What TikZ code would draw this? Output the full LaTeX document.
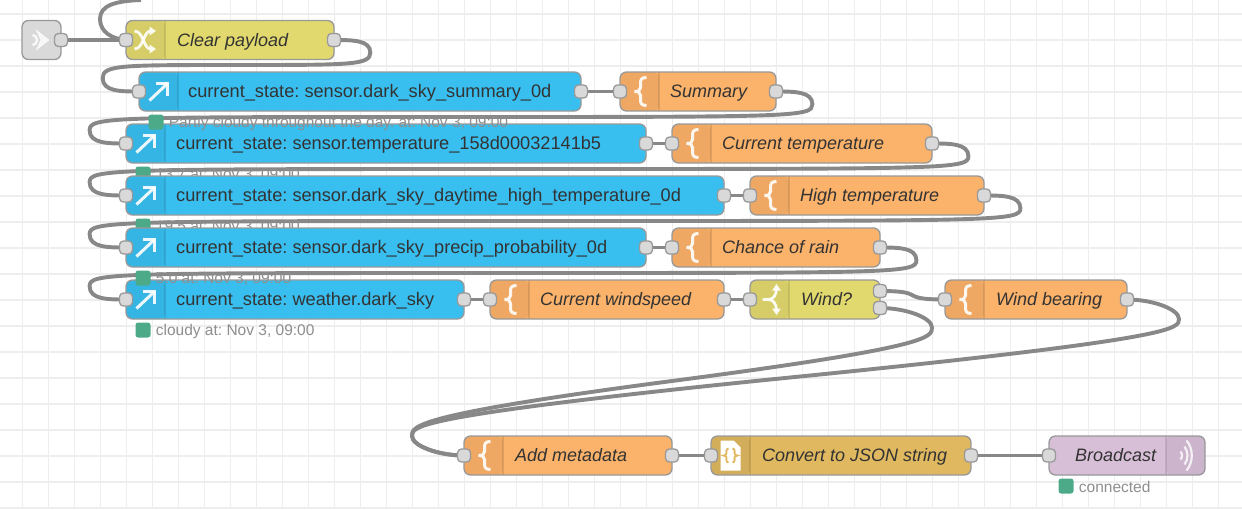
\documentclass[tikz,border=0pt]{standalone}
\usepackage{fontspec}
\setmainfont{Liberation Sans}
\usetikzlibrary{calc,positioning}
\frenchspacing

\definecolor{gridcol}{HTML}{EEEEEE}
\definecolor{wirecol}{HTML}{888888}
\definecolor{edgecol}{HTML}{999999}
\definecolor{portcol}{HTML}{D9D9D9}
\definecolor{textcol}{HTML}{333333}
\definecolor{statcol}{HTML}{4DAA89}
\definecolor{stattext}{HTML}{8E8E8E}
\definecolor{injectcol}{HTML}{D9D9D9}
\definecolor{changecol}{HTML}{E2D96E}
\definecolor{callcol}{HTML}{38BFF0}
\definecolor{funccol}{HTML}{FBB26A}
\definecolor{jsoncol}{HTML}{DFB85F}
\definecolor{linkcol}{HTML}{D8BFD8}

\pgfdeclarelayer{gridlayer}
\pgfdeclarelayer{wirelayer}
\pgfdeclarelayer{statlayer}
\pgfsetlayers{gridlayer,wirelayer,statlayer,main}

% node-red style bezier between two ports
\newcommand{\flowwire}[2]{%
  \pgfpointanchor{#1}{center}\pgfgetlastxy{\wxa}{\wya}%
  \pgfpointanchor{#2}{center}\pgfgetlastxy{\wxb}{\wyb}%
  \pgfmathsetmacro{\ox}{\wxa}\pgfmathsetmacro{\oy}{-\wya}%
  \pgfmathsetmacro{\tx}{\wxb}\pgfmathsetmacro{\ty}{-\wyb}%
  \pgfmathsetmacro{\ddx}{\tx-\ox}\pgfmathsetmacro{\ddy}{\ty-\oy}%
  \pgfmathparse{\ddx>0 ? 1 : 0}%
  \ifnum\pgfmathresult>0
    \pgfmathsetmacro{\del}{veclen(\ddx,\ddy)}%
    \pgfmathsetmacro{\sca}{\del<130 ? 0.75-0.75*(130-\del)/130 : 0.75}%
    \draw[wire] (#1.center) .. controls (\ox+130*\sca,\oy) and (\tx-130*\sca,\ty) .. (#2.center);
  \else
    \pgfmathsetmacro{\sca}{0.4-0.2*max(0,(130-min(abs(\ddx),abs(\ddy)))/130)}%
    \pgfmathsetmacro{\midx}{floor(\tx-\ddx/2)}\pgfmathsetmacro{\midy}{floor(\ty-\ddy/2)}%
    \pgfmathsetmacro{\ya}{(\ty+\midy)/2}%
    \pgfmathsetmacro{\topx}{\ox+130*\sca}\pgfmathsetmacro{\topy}{min(\ya-\ddy/2,\oy+19.5)}%
    \pgfmathsetmacro{\botx}{\tx-130*\sca}\pgfmathsetmacro{\boty}{max(\ya,\ty-19.5)}%
    \pgfmathsetmacro{\xa}{(\ox+\topx)/2}%
    \pgfmathsetmacro{\cay}{max(\oy,\topy-19.5)}%
    \pgfmathsetmacro{\cbx}{\xa}\pgfmathsetmacro{\cby}{min(\midy,\topy+19.5)}%
    \pgfmathsetmacro{\ccy}{max(\midy,\boty-19.5)}%
    \pgfmathparse{abs(\cby-\topy-19.5)<0.01 ? 1 : 0}%
    \ifnum\pgfmathresult>0
      \pgfmathsetmacro{\cay}{\topy-9.75}\pgfmathsetmacro{\ccy}{\boty-9.75}\let\cbx\topx
    \fi
    \draw[wire] (#1.center)
      .. controls (\xa,\oy) and (\topx,\cay) .. (\topx,\topy)
      .. controls (\topx,2*\topy-\cay) and (\cbx,\cby) .. (\midx,\midy)
      .. controls (2*\midx-\cbx,2*\midy-\cby) and (\botx,\ccy) .. (\botx,\boty)
      .. controls (\botx,2*\boty-\ccy) and ({(\tx+\botx)/2},\ty) .. (#2.center);
  \fi
}

\tikzset{
  gridline/.style={gridcol, line width=1.8pt},
  wire/.style={wirecol, line width=3.9pt},
  flownode/.style={draw=edgecol, line width=1.3pt, rounded corners=6.5pt, anchor=west,
    minimum height=39pt, inner sep=0pt, outer sep=0pt, text=textcol},
  iconleft/.style={path picture={
    \fill[black, opacity=0.05] ([xshift=39pt]path picture bounding box.south west) rectangle (path picture bounding box.north west);
    \draw[black, opacity=0.1, line width=1.3pt] ([xshift=39pt]path picture bounding box.south west) -- ([xshift=39pt]path picture bounding box.north west);}},
  iconright/.style={path picture={
    \fill[black, opacity=0.05] ([xshift=-39pt]path picture bounding box.south east) rectangle (path picture bounding box.north east);
    \draw[black, opacity=0.1, line width=1.3pt] ([xshift=-39pt]path picture bounding box.south east) -- ([xshift=-39pt]path picture bounding box.north east);}},
  flowlabel/.style={anchor=base west, xshift=50pt, yshift=-6pt, inner sep=0pt, text=textcol,
    font=\fontsize{18.2pt}{20pt}\selectfont},
  italabel/.style={flowlabel, font=\fontsize{18pt}{20pt}\selectfont\itshape},
  portbox/.style={draw=edgecol, fill=portcol, line width=1.3pt, rounded corners=3.9pt,
    minimum size=13pt, inner sep=0pt, outer sep=0pt},
  statbox/.style={fill=statcol, rounded corners=2.6pt, minimum size=15pt, inner sep=0pt},
  statlabel/.style={text=stattext, inner sep=0pt, yshift=-1pt, font=\fontsize{15.5pt}{18pt}\selectfont},
  icon/.style={white, opacity=0.9, line width=3pt},
  iconbrace/.pic={
    \draw[icon] (7,-14) .. controls (2,-14) and (1,-12) .. (1,-8) -- (1,-4)
      .. controls (1,-1) and (-1,0) .. (-5,0) .. controls (-1,0) and (1,1) .. (1,4)
      -- (1,8) .. controls (1,12) and (2,14) .. (7,14);},
  iconcall/.pic={
    \draw[icon] (-9,9) -- (9,-8);
    \draw[icon] (-3,-8) -- (9,-8) -- (9,4);},
  iconshuffle/.pic={
    \draw[icon, line width=2.8pt] (-11,-9) .. controls (-2,-9) and (-2,9) .. (5,9);
    \draw[icon, line width=2.8pt] (-11,9) .. controls (-2,9) and (-2,-9) .. (5,-9);
    \fill[white, opacity=0.9] (4,-13.5) -- (10.5,-9) -- (4,-4.5) -- cycle;
    \fill[white, opacity=0.9] (4,13.5) -- (10.5,9) -- (4,4.5) -- cycle;},
  iconswitch/.pic={
    \draw[icon, line width=2.8pt] (-7,0) -- (-1,0) .. controls (4,0) and (7,-5) .. (7,-11);
    \draw[icon, line width=2.8pt] (-1,0) .. controls (4,0) and (7,5) .. (7,11);
    \fill[white, opacity=0.9] (2.5,-9) -- (7,-15.5) -- (11.5,-9) -- cycle;
    \fill[white, opacity=0.9] (2.5,9) -- (7,15.5) -- (11.5,9) -- cycle;},
  iconjson/.pic={
    \fill[white] (-10,-15) -- (3,-15) -- (10,-8) -- (10,15) -- (-10,15) -- cycle;
    \draw[jsoncol, line width=1.8pt] (-2,-7) .. controls (-5,-7) and (-4,-2) .. (-4,-2)
      .. controls (-4,0) and (-7,0) .. (-7,0) .. controls (-4,0) and (-4,2) .. (-4,2)
      .. controls (-4,2) and (-5,7) .. (-2,7);
    \draw[jsoncol, line width=1.8pt] (2,-7) .. controls (5,-7) and (4,-2) .. (4,-2)
      .. controls (4,0) and (7,0) .. (7,0) .. controls (4,0) and (4,2) .. (4,2)
      .. controls (4,2) and (5,7) .. (2,7);},
  iconlink/.pic={
    \draw[icon, line width=2.2pt, opacity=0.8] (1,-15) .. controls (8,-7) and (8,7) .. (1,15);
    \draw[icon, line width=2.2pt, opacity=0.8] (-1,-9) .. controls (3,-4) and (3,4) .. (-1,9);
    \draw[icon, line width=2.2pt, opacity=0.8] (-5,-4) .. controls (-3,-2) and (-3,2) .. (-5,4);},
  iconinject/.pic={
    \fill[white, opacity=0.8] (-5,-11) -- (9,0) -- (-5,11) -- (0,0) -- cycle;
    \draw[white, opacity=0.8, line width=2.4pt] (-8,-5) .. controls (-2,-5) and (-2,5) .. (-8,5);},
}

\begin{document}
\begin{tikzpicture}[x=1pt, y=-1pt]

  \useasboundingbox (0,0) rectangle (1242,509);

  % Grid
  \begin{pgfonlayer}{gridlayer}
    \fill[white] (0,0) rectangle (1242,509);
    \foreach \gx in {0,...,46} \draw[gridline] (22.5+26*\gx,0) -- (22.5+26*\gx,509);
    \foreach \gy in {0,...,19} \draw[gridline] (0,14+26*\gy) -- (1242,14+26*\gy);
  \end{pgfonlayer}

  % First rows
  \node[flownode, fill=injectcol, minimum width=39pt] (start) at (22,40) {};
  \node[flownode, iconleft, fill=changecol, minimum width=208pt,
    label={[italabel, xshift=1pt]west:{Clear payload}}] (clear) at (126,40) {};
  \node[flownode, iconleft, fill=callcol, minimum width=442pt,
    label={[flowlabel, xshift=-1pt]west:{current\_state: sensor.dark\_sky\_summary\_0d}}] (summcall) at (139,91.5) {};
  \node[flownode, iconleft, fill=funccol, minimum width=156pt,
    label={[italabel]west:{Summary}}] (summfunc) at (620,91.5) {};
  \node[flownode, iconleft, fill=callcol, minimum width=520pt,
    label={[flowlabel]west:{current\_state: sensor.temperature\_158d00032141b5}}] (tempcall) at (126,143.5) {};
  \node[flownode, iconleft, fill=funccol, minimum width=260pt,
    label={[italabel]west:{Current temperature}}] (tempfunc) at (672,143.5) {};
  \node[flownode, iconleft, fill=callcol, minimum width=598pt,
    label={[flowlabel]west:{current\_state: sensor.dark\_sky\_daytime\_high\_temperature\_0d}}] (highcall) at (126,195.5) {};
  \node[flownode, iconleft, fill=funccol, minimum width=234pt,
    label={[italabel]west:{High temperature}}] (highfunc) at (750,195.5) {};
  \node[flownode, iconleft, fill=callcol, minimum width=520pt,
    label={[flowlabel]west:{current\_state: sensor.dark\_sky\_precip\_probability\_0d}}] (raincall) at (126,247.5) {};
  \node[flownode, iconleft, fill=funccol, minimum width=208pt,
    label={[italabel]west:{Chance of rain}}] (rainfunc) at (672,247.5) {};
  \node[flownode, iconleft, fill=callcol, minimum width=338pt,
    label={[flowlabel]west:{current\_state: weather.dark\_sky}}] (windcall) at (126,299.5) {};
  \node[flownode, iconleft, fill=funccol, minimum width=234pt,
    label={[italabel]west:{Current windspeed}}] (windfunc) at (490,299.5) {};
  \node[flownode, iconleft, fill=changecol, minimum width=130pt,
    label={[italabel, xshift=1pt]west:{Wind?}}] (windsw) at (750,299.5) {};
  \node[flownode, iconleft, fill=funccol, minimum width=182pt,
    label={[italabel, xshift=1pt]west:{Wind bearing}}] (bearfunc) at (945,299.5) {};

  % Last row
  \node[flownode, iconleft, fill=funccol, minimum width=208pt,
    label={[italabel, xshift=1pt]west:{Add metadata}}] (meta) at (464,455.5) {};
  \node[flownode, iconleft, fill=jsoncol, minimum width=260pt,
    label={[italabel, xshift=1pt]west:{Convert to JSON string}}] (tojson) at (711,455.5) {};
  \node[flownode, iconright, fill=linkcol, minimum width=156pt,
    label={[italabel, xshift=-24pt]west:{Broadcast}}] (cast) at (1049,455.5) {};

  % Icons
  \pic at ($(start.center)+(-1,0)$) {iconinject};
  \pic at ($(clear.west)+(19.5,0)$) {iconshuffle};
  \pic at ($(summcall.west)+(19.5,0)$) {iconcall};
  \pic at ($(summfunc.west)+(19.5,0)$) {iconbrace};
  \pic at ($(tempcall.west)+(19.5,0)$) {iconcall};
  \pic at ($(tempfunc.west)+(19.5,0)$) {iconbrace};
  \pic at ($(highcall.west)+(19.5,0)$) {iconcall};
  \pic at ($(highfunc.west)+(19.5,0)$) {iconbrace};
  \pic at ($(raincall.west)+(19.5,0)$) {iconcall};
  \pic at ($(rainfunc.west)+(19.5,0)$) {iconbrace};
  \pic at ($(windcall.west)+(19.5,0)$) {iconcall};
  \pic at ($(windfunc.west)+(19.5,0)$) {iconbrace};
  \pic at ($(windsw.west)+(19.5,0)$) {iconswitch};
  \pic at ($(bearfunc.west)+(19.5,0)$) {iconbrace};
  \pic at ($(meta.west)+(19.5,0)$) {iconbrace};
  \pic at ($(tojson.west)+(19.5,0)$) {iconjson};
  \pic at ($(cast.east)+(-19.5,0)$) {iconlink};

  % Ports
  \node[portbox] (startout) at (start.east) {};
  \node[portbox] (clearin) at (clear.west) {};
  \node[portbox] (clearout) at (clear.east) {};
  \node[portbox] (summcallin) at (summcall.west) {};
  \node[portbox] (summcallout) at (summcall.east) {};
  \node[portbox] (summfuncin) at (summfunc.west) {};
  \node[portbox] (summfuncout) at (summfunc.east) {};
  \node[portbox] (tempcallin) at (tempcall.west) {};
  \node[portbox] (tempcallout) at (tempcall.east) {};
  \node[portbox] (tempfuncin) at (tempfunc.west) {};
  \node[portbox] (tempfuncout) at (tempfunc.east) {};
  \node[portbox] (highcallin) at (highcall.west) {};
  \node[portbox] (highcallout) at (highcall.east) {};
  \node[portbox] (highfuncin) at (highfunc.west) {};
  \node[portbox] (highfuncout) at (highfunc.east) {};
  \node[portbox] (raincallin) at (raincall.west) {};
  \node[portbox] (raincallout) at (raincall.east) {};
  \node[portbox] (rainfuncin) at (rainfunc.west) {};
  \node[portbox] (rainfuncout) at (rainfunc.east) {};
  \node[portbox] (windcallin) at (windcall.west) {};
  \node[portbox] (windcallout) at (windcall.east) {};
  \node[portbox] (windfuncin) at (windfunc.west) {};
  \node[portbox] (windfuncout) at (windfunc.east) {};
  \node[portbox] (windswin) at (windsw.west) {};
  \node[portbox] (windswa) at ($(windsw.east)+(0,-8.5)$) {};
  \node[portbox] (windswb) at ($(windsw.east)+(0,8.5)$) {};
  \node[portbox] (bearin) at (bearfunc.west) {};
  \node[portbox] (bearout) at (bearfunc.east) {};
  \node[portbox] (metain) at (meta.west) {};
  \node[portbox] (metaout) at (meta.east) {};
  \node[portbox] (tojsonin) at (tojson.west) {};
  \node[portbox] (tojsonout) at (tojson.east) {};
  \node[portbox] (castin) at (cast.west) {};

  % Wires
  \begin{pgfonlayer}{wirelayer}
    \coordinate (offtop) at (141,0);
    \draw[wire] (offtop) .. controls (116,1) and (100,5) .. (100,19)
      .. controls (100,32) and (112,39) .. (clearin.center);
    \flowwire{startout}{clearin}
    \flowwire{clearout}{summcallin}
    \flowwire{summcallout}{summfuncin}
    \flowwire{summfuncout}{tempcallin}
    \flowwire{tempcallout}{tempfuncin}
    \flowwire{tempfuncout}{highcallin}
    \flowwire{highcallout}{highfuncin}
    \flowwire{highfuncout}{raincallin}
    \flowwire{raincallout}{rainfuncin}
    \flowwire{rainfuncout}{windcallin}
    \flowwire{windcallout}{windfuncin}
    \flowwire{windfuncout}{windswin}
    \flowwire{windswa}{bearin}
    \flowwire{windswb}{metain}
    \flowwire{bearout}{metain}
    \flowwire{metaout}{tojsonin}
    \flowwire{tojsonout}{castin}
  \end{pgfonlayer}

  % Status, two of them lie under the next node
  \begin{pgfonlayer}{statlayer}
    \node[statbox] (tempstat) at ($(tempcall.south west)+(17,11)$) {};
    \node[statlabel, right=5pt of tempstat] (temptext) {13.7 at: Nov 3, 09:00};
    \node[statbox] (highstat) at ($(highcall.south west)+(17,11)$) {};
    \node[statlabel, right=5pt of highstat] (hightext) {19.5 at: Nov 3, 09:00};
  \end{pgfonlayer}
  \node[statbox] (summstat) at ($(summcall.south west)+(17,11)$) {};
  \node[statlabel, right=5pt of summstat] (summtext) {Partly cloudy throughout the day. at: Nov 3, 09:00};
  \node[statbox] (rainstat) at ($(raincall.south west)+(17,11)$) {};
  \node[statlabel, right=5pt of rainstat] (raintext) {5.0 at: Nov 3, 09:00};
  \node[statbox] (windstat) at ($(windcall.south west)+(17,11)$) {};
  \node[statlabel, right=5pt of windstat] (windtext) {cloudy at: Nov 3, 09:00};
  \node[statbox] (caststat) at ($(cast.south west)+(17,11)$) {};
  \node[statlabel, right=5pt of caststat] (casttext) {connected};

\end{tikzpicture}
\end{document}
